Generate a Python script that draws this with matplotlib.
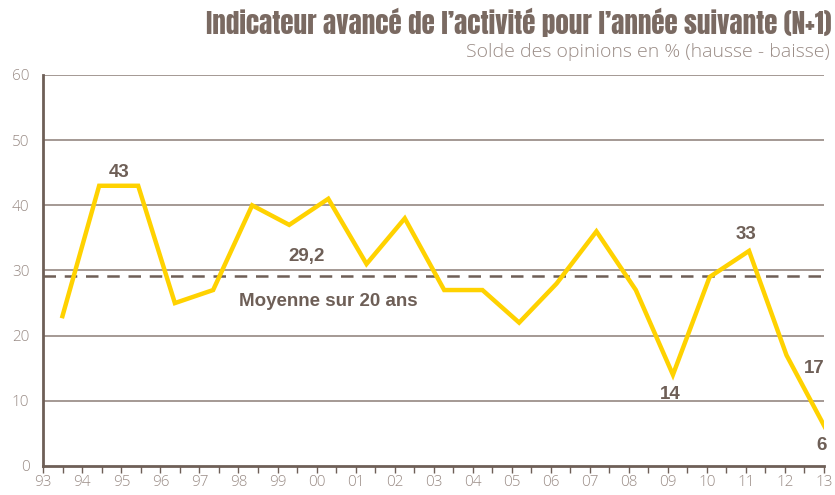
import matplotlib.pyplot as plt
from matplotlib.ticker import MultipleLocator, FixedLocator

# survey dates (fractional years) and balance of opinions (%)
dates = [1993.49, 1994.43, 1995.43, 1996.37, 1997.35, 1998.35, 1999.30, 2000.30,
         2001.28, 2002.26, 2003.27, 2004.25, 2005.19, 2006.15, 2007.17, 2008.18,
         2009.13, 2010.07, 2011.08, 2012.04, 2013.02]
values = [23, 43, 43, 25, 27, 40, 37, 41, 31, 38, 27, 27, 22, 28, 36, 27, 14, 29, 33, 17, 6]
mean_20y = 29.2
years = list(range(1993, 2014))
year_labels = ['%02d' % (y % 100) for y in years]
y_ticks = list(range(0, 61, 10))

brown = '#6e5f57'
light = '#9a8c86'
yellow = '#ffd200'

plt.rcParams['font.family'] = ['Open Sans', 'DejaVu Sans']

fig = plt.figure(figsize=(8.35, 4.95), dpi=100)
ax = fig.add_axes([0.0519, 0.0586, 0.9349, 0.7899])

for y in y_ticks[1:]:
    ax.axhline(y, color='#8c7d76', lw=1.1, zorder=1)
ax.axhline(mean_20y, color=brown, lw=1.8, dashes=(5, 3.5), zorder=2)
ax.plot(dates, values, color=yellow, lw=3.2, solid_joinstyle='miter', zorder=3)

ax.set_xlim(1993, 2013)
ax.set_ylim(0, 60)
ax.xaxis.set_major_locator(FixedLocator(years))
ax.xaxis.set_minor_locator(MultipleLocator(0.5))
ax.set_xticklabels(year_labels, fontweight='light')
ax.set_yticks(y_ticks)
ax.set_yticklabels([str(v) for v in y_ticks], fontweight='light')
ax.tick_params(axis='x', which='both', direction='out', length=5, width=1, color=brown,
               labelsize=11, labelcolor=light, pad=1.5)
ax.tick_params(axis='y', length=0, labelsize=11, labelcolor=light, pad=10)

for s in ['top', 'right']:
    ax.spines[s].set_visible(False)
ax.spines['left'].set_color(brown)
ax.spines['left'].set_linewidth(2)
ax.spines['bottom'].set_color(brown)
ax.spines['bottom'].set_linewidth(2)

lab = dict(color=brown, fontsize=13.5, fontweight='bold', ha='center', va='center',
           family=['Liberation Sans', 'DejaVu Sans'])
ax.text(1994.95, 45.0, '43', **lab)
ax.text(1999.75, 32.2, '29,2', **lab)
ax.text(2000.3, 25.3, 'Moyenne sur 20 ans', **lab)
ax.text(2011.0, 35.5, '33', **lab)
ax.text(2009.05, 11.0, '14', **lab)
ax.text(2012.75, 15, '17', **lab)
ax.text(2012.95, 3.2, '6', **lab)

fig.text(0.996, 0.932, "Indicateur avancé de l\u2019activité pour l\u2019année suivante (N+1)",
         ha='right', va='baseline', fontsize=19.5, color='#7a6a62',
         family=['Anton', 'Oswald', 'DejaVu Sans'])
fig.text(0.994, 0.884, 'Solde des opinions en % (hausse - baisse)', ha='right', va='baseline',
         fontsize=14, color=light, fontweight='light')

fig.savefig('out.png', dpi=100)
